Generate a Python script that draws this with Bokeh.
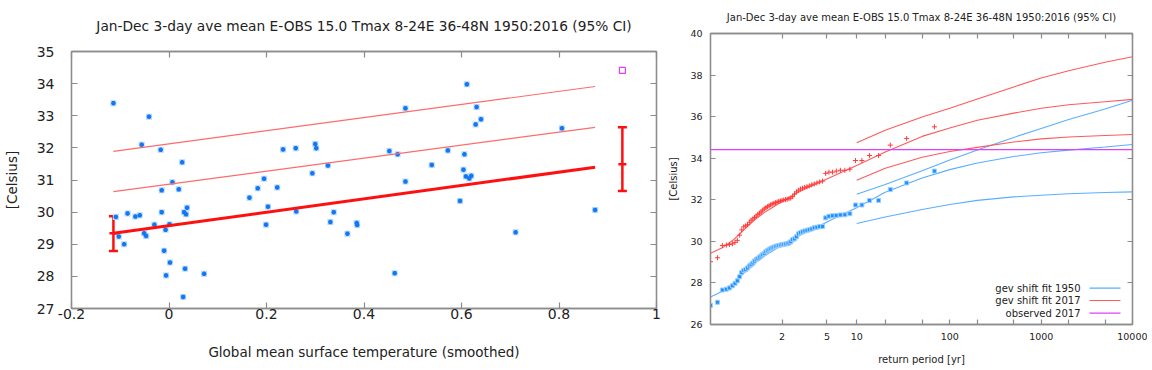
import numpy as np
from bokeh.plotting import figure
from bokeh.models import (Range1d, FixedTicker, LinearAxis, Whisker, TeeHead,
                          ColumnDataSource, Label, Arrow, Span)
from bokeh.embed import file_html
from bokeh.resources import INLINE

FONT = "DejaVu Sans"
TXT = "#222222"
FRAME = "#8c8c8c"
RED = "#ff1010"
RED_THIN = "#ff6b6b"
RED_R = "#ff5a5a"
BLUE_PT = "#1e90ff"
BLUE_LINE = "#5aaeff"
MAG = "#e040fb"

TITLE = "Jan-Dec 3-day ave mean E-OBS 15.0 Tmax 8-24E 36-48N 1950:2016 (95% CI)"

# ---------------- left panel: Tmax vs smoothed GMST ----------------
gmst = [-0.114, -0.041, -0.056, -0.017, 0.027, 0.007, -0.015, 0.020, 0.165, 0.182,
        0.195, 0.203, 0.199, -0.109, -0.103, -0.092, -0.085, -0.069, -0.060, -0.051,
        -0.047, -0.030, -0.015, -0.007, -0.010, 0.001, 0.002, -0.006, 0.033, 0.072,
        0.029, 0.031, 0.037, 0.035, 0.222, 0.234, 0.260, 0.300, 0.302, 0.294,
        0.326, 0.261, 0.338, 0.331, 0.385, 0.386, 0.366, 0.485, 0.452, 0.469,
        0.485, 0.463, 0.539, 0.572, 0.597, 0.611, 0.631, 0.640, 0.629, 0.606,
        0.604, 0.609, 0.616, 0.620, 0.806, 0.711, 0.874]
tmax = [33.39, 32.97, 32.10, 31.94, 31.55, 30.93, 30.68, 30.71, 30.45, 30.74,
        31.04, 30.17, 29.61, 29.85, 29.24, 29.00, 29.96, 29.86, 29.90, 29.34,
        29.26, 29.61, 30.00, 29.45, 28.80, 29.62, 28.43, 28.03, 28.24, 28.08,
        27.36, 30.00, 30.14, 29.93, 30.77, 31.95, 31.99, 32.12, 31.99, 31.21,
        31.45, 30.02, 30.00, 29.69, 29.66, 29.60, 29.33, 33.23, 31.90, 31.80,
        30.95, 28.10, 31.47, 31.92, 30.35, 33.98, 33.27, 32.89, 32.73, 31.80,
        31.32, 31.11, 31.05, 31.13, 32.61, 29.37, 30.07]

fit_x = [-0.114, 0.874]
fit_mu = [29.34, 31.40]
fit_rl_mid = [30.64, 32.64]
fit_rl_high = [31.89, 33.91]

ci_x = [-0.114, 0.93]
ci_center = [29.34, 31.49]
ci_low = [28.79, 30.66]
ci_high = [29.87, 32.64]

obs2017_x = [0.93]
obs2017_y = [34.41]

left_xticks = [-0.2, 0, 0.2, 0.4, 0.6, 0.8, 1]
left_xtick_labels = ["-0.2", "0", "0.2", "0.4", "0.6", "0.8", "1"]
left_yticks = [27, 28, 29, 30, 31, 32, 33, 34, 35]
left_ytick_labels = ["27", "28", "29", "30", "31", "32", "33", "34", "35"]

# ---------------- right panel: return-period plot ----------------
rp_obs = [1.015, 1.030, 1.046, 1.063, 1.079, 1.097, 1.115, 1.133, 1.153, 1.172,
          1.193, 1.214, 1.236, 1.259, 1.283, 1.308, 1.333, 1.360, 1.388, 1.417,
          1.447, 1.478, 1.511, 1.545, 1.581, 1.619, 1.659, 1.700, 1.744, 1.789,
          1.838, 1.889, 1.943, 2.000, 2.061, 2.125, 2.194, 2.267, 2.345, 2.429,
          2.519, 2.615, 2.720, 2.833, 2.957, 3.091, 3.238, 3.400, 3.579, 3.778,
          4.000, 4.250, 4.533, 4.857, 5.231, 5.667, 6.182, 6.800, 7.556, 8.500,
          9.714, 11.333, 13.600, 17.000, 22.667, 34.000, 68.000]
obs_2017 = [29.02, 29.21, 29.80, 29.82, 29.85, 29.88, 29.95, 30.05, 30.30, 30.55,
            30.70, 30.75, 30.80, 30.92, 31.02, 31.08, 31.15, 31.22, 31.30, 31.36,
            31.42, 31.50, 31.56, 31.62, 31.67, 31.71, 31.76, 31.80, 31.83, 31.86,
            31.89, 31.92, 31.94, 31.97, 31.99, 32.01, 32.03, 32.05, 32.08, 32.15,
            32.28, 32.38, 32.46, 32.52, 32.56, 32.60, 32.63, 32.67, 32.72, 32.76,
            32.81, 32.86, 32.90, 33.27, 33.33, 33.33, 33.38, 33.42, 33.42, 33.47,
            33.89, 33.89, 34.13, 34.13, 34.63, 34.95, 35.51]
obs_1950 = [26.92, 27.07, 27.66, 27.70, 27.76, 27.86, 27.98, 28.10, 28.30, 28.50,
            28.60, 28.64, 28.72, 28.82, 28.88, 28.96, 29.05, 29.12, 29.18, 29.24,
            29.30, 29.36, 29.42, 29.50, 29.55, 29.60, 29.65, 29.69, 29.72, 29.75,
            29.78, 29.80, 29.82, 29.84, 29.86, 29.87, 29.89, 29.92, 29.98, 30.08,
            30.12, 30.22, 30.36, 30.42, 30.46, 30.50, 30.53, 30.56, 30.60, 30.65,
            30.68, 30.71, 30.72, 31.13, 31.21, 31.23, 31.25, 31.27, 31.28, 31.33,
            31.75, 31.75, 31.97, 31.97, 32.49, 32.81, 33.38]

rp_fit = [1.015, 1.05, 1.1, 1.2, 1.35, 1.5, 1.75, 2, 2.5, 3, 4, 5, 7, 10,
          20, 50, 100, 200, 500, 1000, 2000, 5000, 10000]
fit_1950 = [27.32, 27.62, 27.97, 28.50, 28.98, 29.28, 29.58, 29.82, 30.14, 30.38,
            30.68, 30.93, 31.28, 31.62, 32.36, 33.05, 33.45, 33.77, 34.08, 34.26,
            34.39, 34.54, 34.66]
fit_2017 = [29.43, 29.72, 30.05, 30.58, 31.07, 31.37, 31.68, 31.92, 32.25, 32.48,
            32.78, 33.00, 33.32, 33.65, 34.30, 35.05, 35.45, 35.83, 36.17, 36.40,
            36.57, 36.72, 36.83]

rp_ci = [10, 20, 50, 100, 200, 500, 1000, 2000, 5000, 10000]
ci_1950_low = [30.86, 31.17, 31.53, 31.77, 31.97, 32.14, 32.22, 32.29, 32.35, 32.38]
ci_1950_high = [32.27, 32.74, 33.40, 33.91, 34.40, 35.00, 35.43, 35.86, 36.37, 36.79]
ci_2017_low = [32.94, 33.52, 34.05, 34.32, 34.52, 34.78, 34.93, 35.02, 35.09, 35.14]
ci_2017_high = [34.74, 35.35, 35.98, 36.40, 36.85, 37.43, 37.86, 38.21, 38.62, 38.88]

observed_2017 = 34.41

right_xtick_periods = [2, 5, 10, 20, 50, 100, 200, 500, 1000, 2000, 5000, 10000]
right_xtick_labels = ["2", "5", "10", "", "", "100", "", "", "1000", "", "", "10000"]
right_yticks = [26, 28, 30, 32, 34, 36, 38, 40]
right_ytick_labels = ["26", "28", "30", "32", "34", "36", "38", "40"]

legend_labels = ["gev shift fit 1950", "gev shift fit 2017", "observed 2017"]
legend_colors = [BLUE_LINE, RED_R, MAG]


def gumbel(T):
    """Gumbel reduced variate used as the return-period axis scale."""
    T = np.asarray(T, dtype=float)
    return -np.log(-np.log(1.0 - 1.0 / T))


def style_axis(ax, tick_len, font_size, standoff, labels=True):
    ax.axis_line_color = FRAME
    ax.axis_line_width = 1.3
    ax.major_tick_line_color = FRAME
    ax.major_tick_line_width = 1.2
    ax.major_tick_in = tick_len
    ax.major_tick_out = 0
    ax.minor_tick_line_color = None
    ax.major_label_text_font = FONT
    ax.major_label_text_color = TXT
    ax.major_label_text_font_size = font_size if labels else "1px"
    ax.major_label_standoff = standoff if labels else 0
    ax.axis_label_text_font = FONT
    ax.axis_label_text_font_style = "normal"
    ax.axis_label_text_color = TXT


def add_mirrors(p, xticks, yticks, tick_len, title, title_size, title_standoff):
    # top mirror axis carries the chart title as its axis label
    top = LinearAxis(ticker=FixedTicker(ticks=list(xticks)),
                     major_label_overrides={float(t): "" for t in xticks},
                     axis_label=title)
    right = LinearAxis(ticker=FixedTicker(ticks=list(yticks)),
                       major_label_overrides={float(t): "" for t in yticks})
    style_axis(top, tick_len, "1px", 0, labels=False)
    style_axis(right, tick_len, "1px", 0, labels=False)
    top.axis_label_text_font_size = title_size
    top.axis_label_standoff = title_standoff
    p.add_layout(top, "above")
    p.add_layout(right, "right")


# ======================= LEFT FIGURE =======================
p1 = figure(frame_width=585, frame_height=257,
            x_range=Range1d(-0.2, 1.0), y_range=Range1d(27, 35),
            output_backend="svg", toolbar_location=None,
            min_border_left=69, min_border_right=5,
            min_border_top=51, min_border_bottom=58,
            x_axis_label="Global mean surface temperature (smoothed)",
            y_axis_label="[Celsius]")
p1.xgrid.visible = False
p1.ygrid.visible = False
p1.outline_line_color = FRAME
p1.outline_line_width = 1.3
p1.background_fill_color = "white"
p1.border_fill_color = "white"

p1.xaxis.ticker = FixedTicker(ticks=left_xticks)
p1.xaxis.major_label_overrides = dict(zip([float(v) for v in left_xticks], left_xtick_labels))
p1.yaxis.ticker = FixedTicker(ticks=left_yticks)
p1.yaxis.major_label_overrides = dict(zip([float(v) for v in left_yticks], left_ytick_labels))
style_axis(p1.xaxis[0], 6, "14px", 0)
style_axis(p1.yaxis[0], 6, "14px", 17)
p1.xaxis.axis_label_text_font_size = "13.5px"
p1.yaxis.axis_label_text_font_size = "13.5px"
p1.xaxis.axis_label_standoff = 22
p1.yaxis.axis_label_standoff = 14
add_mirrors(p1, left_xticks, left_yticks, 6, TITLE, "13.75px", 18)

p1.scatter(gmst, tmax, marker="square", size=6, fill_color="#b3d9ff",
           line_color=None)
p1.scatter(gmst, tmax, marker="asterisk", size=4.5, line_color="#1476f0",
           line_width=1.5)
p1.line(fit_x, fit_rl_high, line_color=RED_THIN, line_width=1.2)
p1.line(fit_x, fit_rl_mid, line_color=RED_THIN, line_width=1.2)
p1.line(fit_x, fit_mu, line_color=RED, line_width=3)

ci_src = ColumnDataSource(dict(x=ci_x, lo=ci_low, hi=ci_high))
p1.add_layout(Whisker(source=ci_src, base="x", lower="lo", upper="hi",
                      dimension="height", line_color=RED, line_width=2.5,
                      upper_head=TeeHead(size=9, line_color=RED, line_width=2.5),
                      lower_head=TeeHead(size=9, line_color=RED, line_width=2.5)))
p1.scatter(ci_x, ci_center, marker="dash", size=8, line_color=RED, line_width=2.5)
p1.scatter(obs2017_x, obs2017_y, marker="square", size=6, fill_color=None,
           line_color=MAG, line_width=1.2)

# ======================= RIGHT FIGURE =======================
gx_obs = gumbel(rp_obs)
p2 = figure(frame_width=422, frame_height=291,
            x_range=Range1d(float(gumbel(rp_obs[0])), float(gumbel(10000))),
            y_range=Range1d(26, 40),
            output_backend="svg", toolbar_location=None,
            min_border_left=49, min_border_right=15,
            min_border_top=33, min_border_bottom=44,
            x_axis_label="return period [yr]", y_axis_label="[Celsius]")
p2.xgrid.visible = False
p2.ygrid.visible = False
p2.outline_line_color = FRAME
p2.outline_line_width = 1.3
p2.border_fill_color = "white"

gticks = [float(v) for v in gumbel(right_xtick_periods)]
p2.xaxis.ticker = FixedTicker(ticks=gticks)
p2.xaxis.major_label_overrides = dict(zip(gticks, right_xtick_labels))
p2.yaxis.ticker = FixedTicker(ticks=right_yticks)
p2.yaxis.major_label_overrides = dict(zip([float(v) for v in right_yticks], right_ytick_labels))
style_axis(p2.xaxis[0], 5, "9.5px", 8)
style_axis(p2.yaxis[0], 5, "9.5px", 8)
p2.xaxis.axis_label_text_font_size = "10px"
p2.yaxis.axis_label_text_font_size = "10px"
p2.xaxis.axis_label_standoff = 11
p2.yaxis.axis_label_standoff = 8
add_mirrors(p2, gticks, right_yticks, 5, TITLE, "10px", 11)

p2.add_layout(Span(location=observed_2017, dimension="width", line_color=MAG,
                   line_width=1.3))

g_fit = gumbel(rp_fit)
g_ci = gumbel(rp_ci)
p2.line(g_fit, fit_1950, line_color=BLUE_LINE, line_width=1.1)
p2.line(g_ci, ci_1950_low, line_color=BLUE_LINE, line_width=1.1)
p2.line(g_ci, ci_1950_high, line_color=BLUE_LINE, line_width=1.1)
p2.line(g_fit, fit_2017, line_color=RED_R, line_width=1.1)
p2.line(g_ci, ci_2017_low, line_color=RED_R, line_width=1.1)
p2.line(g_ci, ci_2017_high, line_color=RED_R, line_width=1.1)

p2.scatter(gx_obs, obs_1950, marker="square", size=4, fill_color=BLUE_PT,
           line_color="#9ccfff", line_width=1)
p2.scatter(gx_obs, obs_2017, marker="cross", size=5, line_color="#ff3b3b",
           line_width=1)

# gnuplot-style key: right-aligned text followed by a line sample
key_y = [36.3, 24.0, 11.3]
for lab, col, yy in zip(legend_labels, legend_colors, key_y):
    p2.add_layout(Label(x=370, y=yy, x_units="screen", y_units="screen",
                        text=lab, text_align="right", text_baseline="middle",
                        text_font=FONT, text_font_size="10px", text_color=TXT))
    p2.add_layout(Arrow(end=None, x_start=379, y_start=yy, x_end=410, y_end=yy,
                        start_units="screen", end_units="screen",
                        line_color=col, line_width=1.2))

# Two independent roots placed side by side (no frame alignment between them)
PAGE = """
{% block postamble %}
<style>
  body { display: flex; flex-direction: row; align-items: flex-start; }
</style>
{% endblock %}
"""
open("out.html", "w").write(file_html([p1, p2], INLINE, template=PAGE))
